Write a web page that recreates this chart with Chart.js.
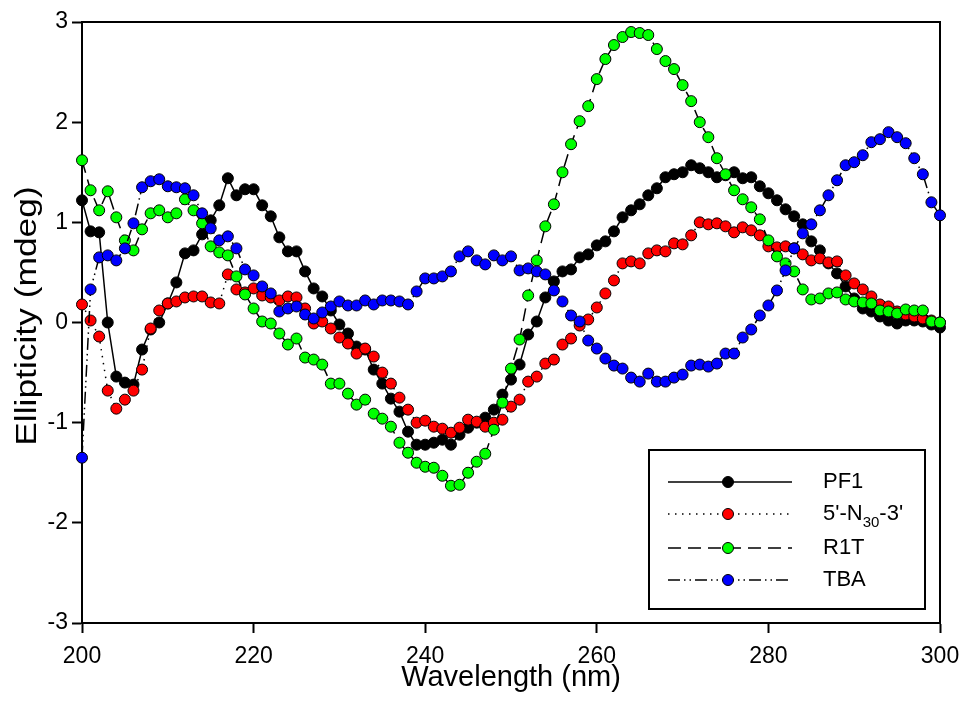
<!DOCTYPE html>
<html>
<head>
<meta charset="utf-8">
<title>CD spectra</title>
<script src="https://cdn.jsdelivr.net/npm/chart.js@4.4.1/dist/chart.umd.min.js"></script>
<style>
  html, body { margin: 0; padding: 0; background: #fff; }
  canvas { display: block; }
</style>
</head>
<body>
<canvas id="cdChart" width="963" height="713"></canvas>
<script>
// wavelength grid (nm), one reading per nm
const wavelengths = [
  200, 201, 202, 203, 204, 205, 206, 207, 208, 209,
  210, 211, 212, 213, 214, 215, 216, 217, 218, 219,
  220, 221, 222, 223, 224, 225, 226, 227, 228, 229,
  230, 231, 232, 233, 234, 235, 236, 237, 238, 239,
  240, 241, 242, 243, 244, 245, 246, 247, 248, 249,
  250, 251, 252, 253, 254, 255, 256, 257, 258, 259,
  260, 261, 262, 263, 264, 265, 266, 267, 268, 269,
  270, 271, 272, 273, 274, 275, 276, 277, 278, 279,
  280, 281, 282, 283, 284, 285, 286, 287, 288, 289,
  290, 291, 292, 293, 294, 295, 296, 297, 298, 299,
  300
];

// ellipticity in mdeg
const pf1 = [
  1.22, 0.91, 0.90, 0.00, -0.54, -0.60, -0.62, -0.27, -0.07, 0.00,
  0.19, 0.40, 0.69, 0.72, 0.88, 1.02, 1.17, 1.44, 1.27, 1.33,
  1.33, 1.17, 1.06, 0.85, 0.71, 0.71, 0.51, 0.34, 0.26, 0.12,
  -0.02, -0.11, -0.24, -0.27, -0.47, -0.61, -0.76, -0.89, -1.09, -1.22,
  -1.22, -1.20, -1.17, -1.22, -1.12, -1.05, -1.00, -0.95, -0.87, -0.72,
  -0.57, -0.42, -0.12, 0.01, 0.25, 0.41, 0.51, 0.53, 0.65, 0.68,
  0.77, 0.81, 0.91, 1.05, 1.12, 1.18, 1.27, 1.34, 1.45, 1.48,
  1.50, 1.57, 1.54, 1.50, 1.45, 1.47, 1.50, 1.44, 1.45, 1.36,
  1.29, 1.22, 1.13, 1.06, 0.98, 0.81, 0.72, 0.59, 0.49, 0.36,
  0.24, 0.14, 0.11, 0.06, 0.02, -0.01, 0.02, 0.02, 0.01, -0.02,
  -0.05
];

const n30 = [
  0.18, 0.02, -0.14, -0.68, -0.86, -0.77, -0.68, -0.47, -0.06, 0.12,
  0.19, 0.21, 0.25, 0.26, 0.26, 0.20, 0.19, 0.48, 0.33, 0.30,
  0.34, 0.27, 0.25, 0.22, 0.26, 0.25, 0.14, -0.01, 0.01, -0.06,
  -0.15, -0.21, -0.31, -0.26, -0.34, -0.50, -0.61, -0.75, -0.87, -1.00,
  -0.98, -1.04, -1.06, -1.10, -1.05, -0.97, -0.99, -1.04, -1.00, -0.97,
  -0.84, -0.77, -0.59, -0.54, -0.41, -0.37, -0.22, -0.16, -0.03, 0.03,
  0.15, 0.29, 0.42, 0.59, 0.61, 0.59, 0.69, 0.72, 0.71, 0.79,
  0.78, 0.87, 1.00, 0.98, 0.99, 0.96, 0.90, 0.95, 0.92, 0.87,
  0.76, 0.75, 0.76, 0.74, 0.68, 0.62, 0.64, 0.60, 0.61, 0.47,
  0.39, 0.33, 0.26, 0.18, 0.16, 0.11, 0.08, 0.06, 0.04, 0.02,
  0.00
];

const r1t = [
  1.62, 1.32, 1.12, 1.31, 1.05, 0.82, 0.72, 0.93, 1.09, 1.12,
  1.05, 1.09, 1.23, 1.12, 0.99, 0.76, 0.70, 0.67, 0.46, 0.28,
  0.14, 0.01, -0.01, -0.11, -0.22, -0.16, -0.35, -0.37, -0.42, -0.61,
  -0.61, -0.71, -0.82, -0.77, -0.91, -0.96, -1.04, -1.20, -1.30, -1.40,
  -1.44, -1.45, -1.53, -1.63, -1.62, -1.50, -1.39, -1.31, -1.07, -0.80,
  -0.46, -0.17, 0.27, 0.62, 0.96, 1.18, 1.50, 1.78, 2.01, 2.16,
  2.43, 2.63, 2.77, 2.85, 2.90, 2.89, 2.87, 2.73, 2.61, 2.53,
  2.37, 2.21, 2.00, 1.85, 1.64, 1.48, 1.32, 1.23, 1.15, 1.03,
  0.82, 0.66, 0.59, 0.51, 0.33, 0.23, 0.24, 0.29, 0.30, 0.23,
  0.21, 0.20, 0.19, 0.12, 0.11, 0.09, 0.13, 0.12, 0.12, 0.01,
  0.00
];

const tba = [
  -1.35, 0.33, 0.65, 0.67, 0.62, 0.74, 0.99, 1.35, 1.41, 1.43,
  1.36, 1.35, 1.34, 1.27, 1.09, 0.94, 0.82, 0.86, 0.74, 0.53,
  0.47, 0.36, 0.29, 0.11, 0.14, 0.16, 0.08, 0.04, 0.10, 0.16,
  0.21, 0.17, 0.17, 0.22, 0.18, 0.22, 0.22, 0.21, 0.18, 0.31,
  0.44, 0.44, 0.46, 0.51, 0.66, 0.71, 0.62, 0.58, 0.67, 0.62,
  0.66, 0.52, 0.54, 0.51, 0.48, 0.32, 0.21, 0.07, 0.01, -0.18,
  -0.26, -0.36, -0.43, -0.46, -0.55, -0.59, -0.51, -0.59, -0.59, -0.55,
  -0.52, -0.43, -0.42, -0.44, -0.41, -0.31, -0.31, -0.15, -0.07, 0.07,
  0.17, 0.32, 0.52, 0.74, 0.89, 0.98, 1.12, 1.27, 1.42, 1.57,
  1.60, 1.67, 1.80, 1.83, 1.90, 1.85, 1.79, 1.64, 1.48, 1.20,
  1.07
];

const xTicks = [200, 220, 240, 260, 280, 300];
const yTicks = [-3, -2, -1, 0, 1, 2, 3];

// legend text, split so the "30" can be set as a subscript
const legendLabels = [
  [['PF1', false]],
  [["5'-N", false], ['30', true], ["-3'", false]],
  [['R1T', false]],
  [['TBA', false]]
];

const FONT = "Arial, 'Liberation Sans', sans-serif";

const toPoints = vals => vals.map((v, i) => ({ x: wavelengths[i], y: v }));

const makeSet = (label, vals, fill, dash, order) => ({
  label: label,
  data: toPoints(vals),
  borderColor: '#000',
  borderWidth: 1.5,
  borderDash: dash,
  pointRadius: 5.5,
  pointBorderWidth: 1,
  pointBorderColor: '#000',
  pointBackgroundColor: fill,
  tension: 0,
  clip: false,
  order: order
});

// top/right frame lines
const frame = {
  id: 'frame',
  beforeDatasetsDraw(chart) {
    const { ctx, chartArea: a } = chart;
    ctx.save();
    ctx.strokeStyle = '#000';
    ctx.lineWidth = 2;
    ctx.beginPath();
    ctx.moveTo(a.left, a.top);
    ctx.lineTo(a.right, a.top);
    ctx.lineTo(a.right, a.bottom);
    ctx.stroke();
    ctx.restore();
  }
};

// y axis title, set a little long and narrow
const yTitle = {
  id: 'yTitle',
  afterDraw(chart) {
    const ctx = chart.ctx;
    ctx.save();
    ctx.translate(28, 316);
    ctx.rotate(-Math.PI / 2);
    ctx.scale(1.22, 1);
    ctx.font = '29px ' + FONT;
    ctx.textAlign = 'center';
    ctx.textBaseline = 'middle';
    ctx.fillStyle = '#000';
    ctx.fillText('Ellipticity (mdeg)', 0, 0);
    ctx.restore();
  }
};

// boxed legend in the lower right of the plot
const boxLegend = {
  id: 'boxLegend',
  afterDraw(chart) {
    const { ctx, chartArea: a } = chart;
    const right = a.right - 15, bottom = a.bottom - 14;
    const w = 276, h = 159;
    const left = right - w, top = bottom - h;
    ctx.save();
    ctx.fillStyle = '#fff';
    ctx.fillRect(left, top, w, h);
    ctx.strokeStyle = '#000';
    ctx.lineWidth = 2;
    ctx.strokeRect(left, top, w, h);

    const rows = [32, 64, 98, 130];
    chart.data.datasets.forEach((ds, i) => {
      const y = top + rows[i];
      ctx.strokeStyle = '#000';
      ctx.lineWidth = 1.5;
      ctx.setLineDash(ds.borderDash);
      ctx.beginPath();
      ctx.moveTo(left + 19, y);
      ctx.lineTo(left + 143, y);
      ctx.stroke();
      ctx.setLineDash([]);
      ctx.lineWidth = 1;
      ctx.beginPath();
      ctx.arc(left + 79, y, 5.5, 0, Math.PI * 2);
      ctx.fillStyle = ds.pointBackgroundColor;
      ctx.fill();
      ctx.stroke();

      let x = left + 174;
      ctx.fillStyle = '#000';
      ctx.textBaseline = 'middle';
      legendLabels[i].forEach(([txt, sub]) => {
        ctx.font = (sub ? '15px ' : '22px ') + FONT;
        ctx.fillText(txt, x, sub ? y + 9 : y);
        x += ctx.measureText(txt).width;
      });
    });
    ctx.restore();
  }
};

const axisCommon = {
  type: 'linear',
  grid: {
    drawOnChartArea: false,
    drawTicks: true,
    tickLength: 10,
    tickWidth: 2,
    tickColor: '#000'
  },
  border: { display: true, color: '#000', width: 2 }
};

// keep the plot box fixed: no extra room for overhanging end labels
const noOverhang = s => {
  s.paddingLeft = 0; s.paddingRight = 0;
  s.paddingTop = 0; s.paddingBottom = 0;
};

new Chart(document.getElementById('cdChart'), {
  type: 'line',
  data: {
    datasets: [
      makeSet('PF1', pf1, '#000000', [], 3),
      makeSet("5'-N30-3'", n30, '#ff0000', [1.5, 5.5], 2),
      makeSet('R1T', r1t, '#00ff00', [13, 7], 1),
      makeSet('TBA', tba, '#0000ff', [12, 4, 1.5, 4, 1.5, 4], 0)
    ]
  },
  options: {
    responsive: false,
    animation: false,
    devicePixelRatio: 1,
    layout: { padding: { left: 0, right: 23, top: 22, bottom: 0 } },
    plugins: {
      legend: { display: false },
      tooltip: { enabled: false }
    },
    scales: {
      x: Object.assign({}, axisCommon, {
        position: 'bottom',
        min: 200,
        max: 300,
        afterBuildTicks: s => { s.ticks = xTicks.map(v => ({ value: v })); },
        afterFit: s => { s.height = 90; noOverhang(s); },
        ticks: { color: '#000', font: { family: FONT, size: 23 }, padding: 10, maxRotation: 0 },
        title: {
          display: true,
          text: 'Wavelength (nm)',
          color: '#000',
          font: { family: FONT, size: 29 },
          padding: { top: 0, bottom: 18 }
        }
      }),
      y: Object.assign({}, axisCommon, {
        position: 'left',
        min: -3,
        max: 3,
        afterBuildTicks: s => { s.ticks = yTicks.map(v => ({ value: v })); },
        afterFit: s => { s.width = 82; noOverhang(s); },
        ticks: { color: '#000', font: { family: FONT, size: 23 }, padding: 4 }
      })
    }
  },
  plugins: [frame, yTitle, boxLegend]
});
</script>
</body>
</html>
